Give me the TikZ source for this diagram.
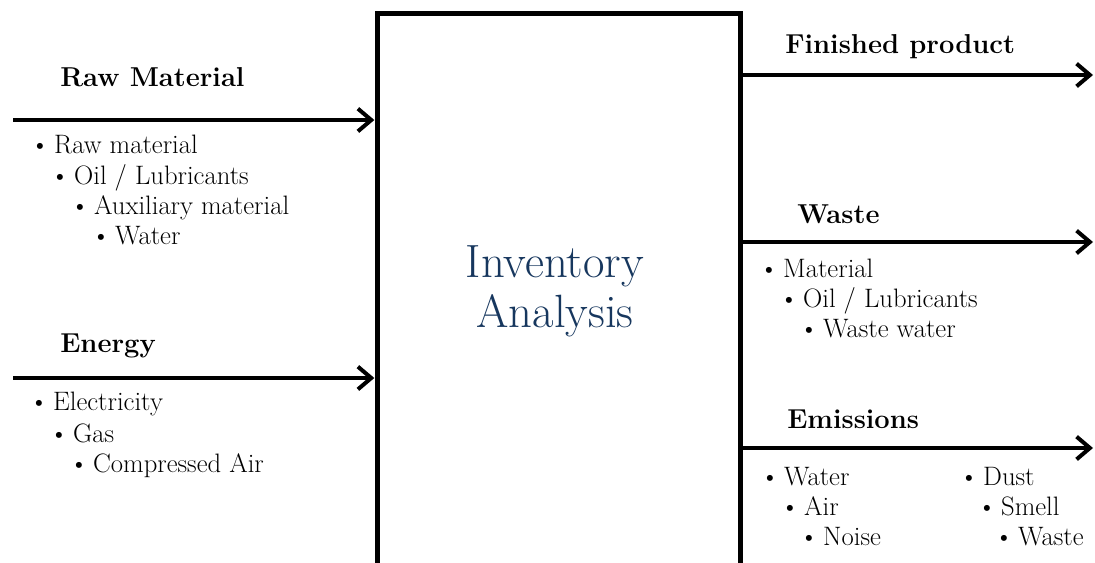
\documentclass[tikz,border=0pt]{standalone}
\usepackage{fontspec}
\usetikzlibrary{arrows.meta}
\definecolor{inknavy}{HTML}{17375E}
\newcommand\bul{\textbullet\hspace{3.5pt}}
\tikzset{
  flow/.style={line width=3pt, -{Straight Barb[length=10pt,width=17pt]}},
  heading/.style={font=\fontsize{20.5}{24}\selectfont\bfseries, anchor=base west, inner sep=0},
  item/.style={font=\fontsize{20}{24}\selectfont, anchor=base west, inner sep=0},
  process/.style={draw, line width=3.75pt, outer sep=0, inner sep=0, anchor=north west},
}
\begin{document}
\begin{tikzpicture}[x=0.75pt,y=-0.75pt]
\useasboundingbox (0,0) rectangle (1095,562);
\clip (0,0) rectangle (1095,562);

% central process box (runs off the bottom edge)
\node[process, minimum width=272.25pt, minimum height=450pt] (inv) at (377,13) {};
\node[text=inknavy, align=center, font=\fontsize{35}{37.5}\selectfont] (label) at (555,291) {Inventory\\Analysis};

% inputs
\coordinate (rawin) at (13,120);
\coordinate (enin) at (13,378);
\draw[flow, shorten >=2pt] (rawin) -- (rawin -| inv.west);
\draw[flow, shorten >=2pt] (enin) -- (enin -| inv.west);

\node[heading] (rawhead) at (60,86) {Raw Material};
\node[item] (raw1) at (30,153) {\bul Raw material};
\node[item] (raw2) at (50,184) {\bul Oil / Lubricants};
\node[item] (raw3) at (70,214) {\bul Auxiliary material};
\node[item] (raw4) at (91,244) {\bul Water};

\node[heading] (enhead) at (60,352) {Energy};
\node[item] (en1) at (29,410) {\bul Electricity};
\node[item] (en2) at (49,442) {\bul Gas};
\node[item] (en3) at (69,472) {\bul Compressed Air};

% outputs
\coordinate (prodout) at (1093,75);
\coordinate (wasteout) at (1093,242);
\coordinate (emout) at (1093,448);
\draw[flow] (prodout -| inv.east) -- (prodout);
\draw[flow] (wasteout -| inv.east) -- (wasteout);
\draw[flow] (emout -| inv.east) -- (emout);

\node[heading] (prodhead) at (785,53) {Finished product};

\node[heading] (wastehead) at (797,223) {Waste};
\node[item] (w1) at (759,277) {\bul Material};
\node[item] (w2) at (779,307) {\bul Oil / Lubricants};
\node[item] (w3) at (799,337) {\bul Waste water};

\node[heading] (emhead) at (787,428) {Emissions};
\node[item] (e1) at (760,485) {\bul Water};
\node[item] (e2) at (780,515) {\bul Air};
\node[item] (e3) at (799,545) {\bul Noise};
\node[item] (e4) at (959,485) {\bul Dust};
\node[item] (e5) at (977,515) {\bul Smell};
\node[item] (e6) at (994,545) {\bul Waste};
\end{tikzpicture}
\end{document}
